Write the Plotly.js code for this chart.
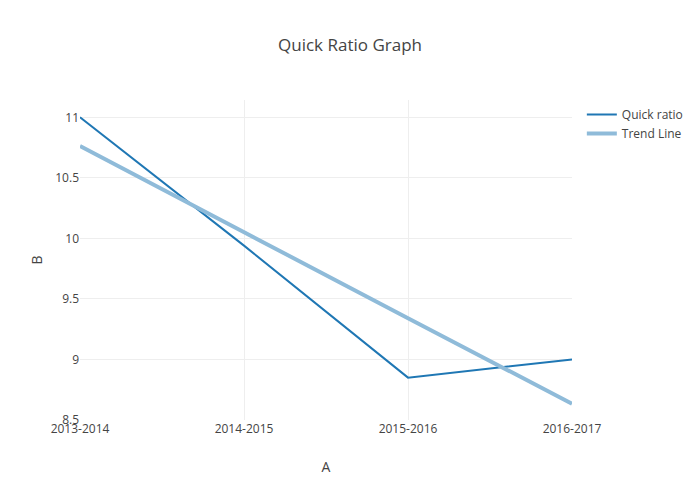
<!DOCTYPE html>
<html>
<head>
<meta charset="utf-8">
<script src="https://cdn.plot.ly/plotly-3.0.1.min.js"></script>
<style>html,body{margin:0;padding:0;background:#fff;}#chart{width:700px;height:500px;}</style>
</head>
<body>
<div id="chart"></div>
<script>
var periods = ["2013-2014", "2014-2015", "2015-2016", "2016-2017"];
var quickRatio = [11.0, 9.94, 8.85, 9.0];
var trendLine = [10.763, 10.05, 9.34, 8.635];

var traces = [
  {x: periods, y: quickRatio, type: "scatter", mode: "lines", name: "Quick ratio",
   line: {color: "#1f77b4", width: 2}},
  {x: periods, y: trendLine, type: "scatter", mode: "lines", name: "Trend Line",
   line: {color: "rgb(143,187,217)", width: 4}}
];

var layout = {
  width: 700, height: 500,
  font: {family: "'Open Sans', verdana, arial, sans-serif", color: "#444"},
  title: {text: "Quick Ratio Graph", font: {size: 17}, y: 0.91, yanchor: "middle"},
  margin: {l: 80, r: 80, t: 100, b: 80},
  xaxis: {title: {text: "A"}, showgrid: true, gridcolor: "#eee", zeroline: false},
  yaxis: {title: {text: "B"}, range: [8.5, 11.143], showgrid: true, gridcolor: "#eee", zeroline: false},
  showlegend: true,
  paper_bgcolor: "#fff", plot_bgcolor: "#fff"
};

Plotly.newPlot("chart", traces, layout, {displayModeBar: false});
</script>
</body>
</html>
